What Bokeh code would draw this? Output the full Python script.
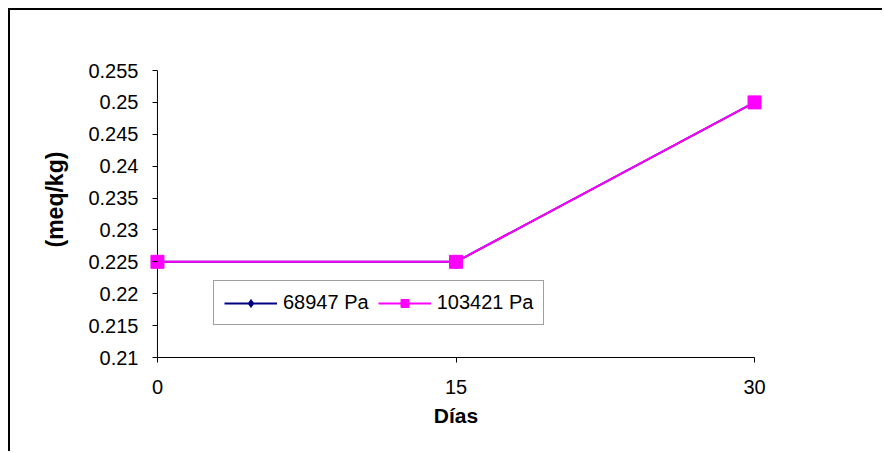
from bokeh.plotting import figure
from bokeh.models import Range1d, FixedTicker, Legend, LegendItem, Title
from bokeh.embed import file_html
from bokeh.resources import INLINE

days = [0, 15, 30]
s68947 = [0.225, 0.225, 0.25]
s103421 = [0.225, 0.225, 0.25]
series_names = ["68947 Pa", "103421 Pa"]
x_ticks = [0, 15, 30]
y_ticks = [0.21, 0.215, 0.22, 0.225, 0.23, 0.235, 0.24, 0.245, 0.25, 0.255]
y_tick_labels = ["0.21", "0.215", "0.22", "0.225", "0.23", "0.235", "0.24", "0.245", "0.25", "0.255"]
x_min, x_max = 0, 30
y_min, y_max = 0.21, 0.255

FONT = "Liberation Sans"
FS = "20px"

p = figure(width=874, height=443, output_backend="svg", toolbar_location=None,
           x_range=Range1d(-0.4, 30.4), y_range=Range1d(y_min, y_max),
           min_border_left=139, min_border_right=122, min_border_top=60, min_border_bottom=96,
           styles={"margin-left": "8px", "margin-top": "8px",
                   "border-left": "2px solid #000", "border-top": "2px solid #000"})
p.background_fill_color = "white"
p.border_fill_color = "white"
p.outline_line_color = None
p.xgrid.visible = False
p.ygrid.visible = False

for ax in (p.xaxis[0], p.yaxis[0]):
    ax.axis_line_color = "black"
    ax.axis_line_width = 1
    ax.major_tick_line_color = "black"
    ax.major_tick_in = 0
    ax.major_tick_out = 5
    ax.minor_tick_line_color = None
    ax.major_label_text_font = FONT
    ax.major_label_text_font_size = FS
    ax.major_label_text_color = "black"
    ax.axis_label_text_font = FONT
    ax.axis_label_text_font_size = FS
    ax.axis_label_text_font_style = "bold"
    ax.axis_label_text_color = "black"

p.xaxis[0].ticker = FixedTicker(ticks=x_ticks)
p.xaxis[0].bounds = (x_min, x_max)
p.xaxis[0].major_label_standoff = 17
p.xaxis[0].axis_label = "Días"
p.xaxis[0].axis_label_standoff = 7
p.xaxis[0].axis_label_text_font_size = "21px"

# y axis sits at the frame edge (a little left of x=0); shift ticks onto x=0
p.yaxis[0].ticker = FixedTicker(ticks=y_ticks)
p.yaxis[0].axis_line_color = None
p.yaxis[0].major_tick_out = -3
p.yaxis[0].major_tick_in = 8
p.yaxis[0].major_label_overrides = {v: s for v, s in zip(y_ticks, y_tick_labels)}
p.yaxis[0].major_label_standoff = 11

y_title = Title(text="(meq/kg)", align="left", offset=110, standoff=36,
                text_font=FONT, text_font_size="23px", text_font_style="bold",
                text_color="black")
p.add_layout(y_title, "left")

# value axis line at x = 0
p.segment(x0=[x_min], y0=[y_min], x1=[x_min], y1=[y_max], line_color="black", line_width=1)

l1 = p.line(days, s68947, line_color="#000080", line_width=2)
m1 = p.scatter(days, s68947, marker="diamond", size=13, fill_color="#000080", line_color="#000080")
l2 = p.line(days, s103421, line_color="#FF00FF", line_width=2)
m2 = p.scatter(days, s103421, marker="square", size=13, fill_color="#FF00FF", line_color="#FF00FF")

legend = Legend(items=[LegendItem(label=series_names[0], renderers=[l1, m1]),
                       LegendItem(label=series_names[1], renderers=[l2, m2])],
                orientation="horizontal", location=(64, 32),
                label_text_font=FONT, label_text_font_size=FS, label_text_color="black",
                glyph_width=53, glyph_height=20, label_standoff=6, spacing=9,
                padding=10, margin=0,
                border_line_color="#404040", border_line_width=1,
                background_fill_color="white", background_fill_alpha=1)
p.add_layout(legend, "center")

open("out.html", "w").write(file_html(p, INLINE))
